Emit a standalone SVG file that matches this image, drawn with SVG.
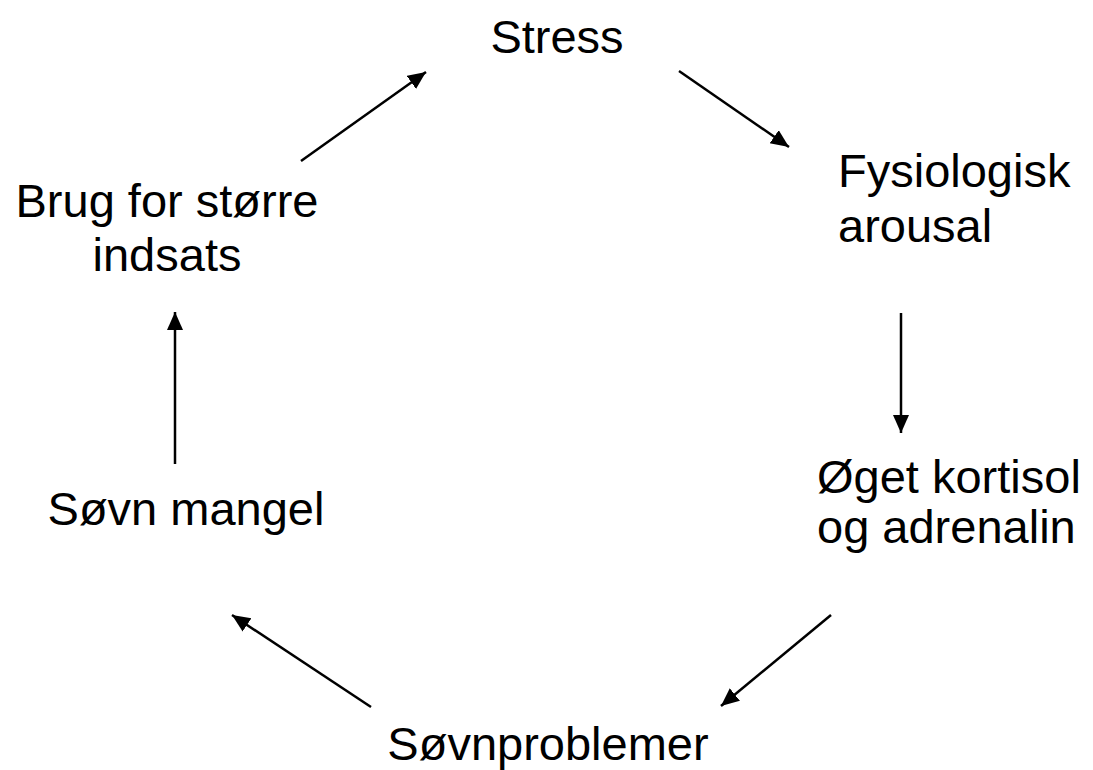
<svg xmlns="http://www.w3.org/2000/svg" width="1093" height="770" viewBox="0 0 1093 770">
<style>
text{font-family:"Liberation Sans",Arial,sans-serif;font-size:47px;fill:#000}
.c{stroke:#000;stroke-width:2.5;fill:none;marker-end:url(#ah)}
</style>
<defs>
<marker id="ah" markerUnits="userSpaceOnUse" markerWidth="20" markerHeight="18" refX="18" refY="8" orient="auto">
<path d="M0,0 L18,8 L0,16 Z" fill="#000"/>
</marker>
</defs>
<rect width="1093" height="770" fill="#fff"/>
<g id="stress"><text x="557" y="53" text-anchor="middle">Stress</text></g>
<g id="fysiologisk"><text x="838" y="187">Fysiologisk</text><text x="838" y="242">arousal</text></g>
<g id="kortisol"><text x="817" y="493">Øget kortisol</text><text x="817" y="543">og adrenalin</text></g>
<g id="sovnproblemer"><text x="548" y="760" text-anchor="middle">Søvnproblemer</text></g>
<g id="sovnmangel"><text x="186" y="525" text-anchor="middle">Søvn mangel</text></g>
<g id="brug"><text x="167" y="217" text-anchor="middle">Brug for større</text><text x="167" y="271" text-anchor="middle">indsats</text></g>
<g id="connectors">
<line class="c" x1="679" y1="71" x2="789" y2="147"/>
<line class="c" x1="901" y1="313" x2="901" y2="433"/>
<line class="c" x1="831" y1="615" x2="721" y2="706"/>
<line class="c" x1="371" y1="707" x2="232" y2="615"/>
<line class="c" x1="175" y1="464" x2="175" y2="312"/>
<line class="c" x1="301" y1="161" x2="426" y2="72"/>
</g>
</svg>
